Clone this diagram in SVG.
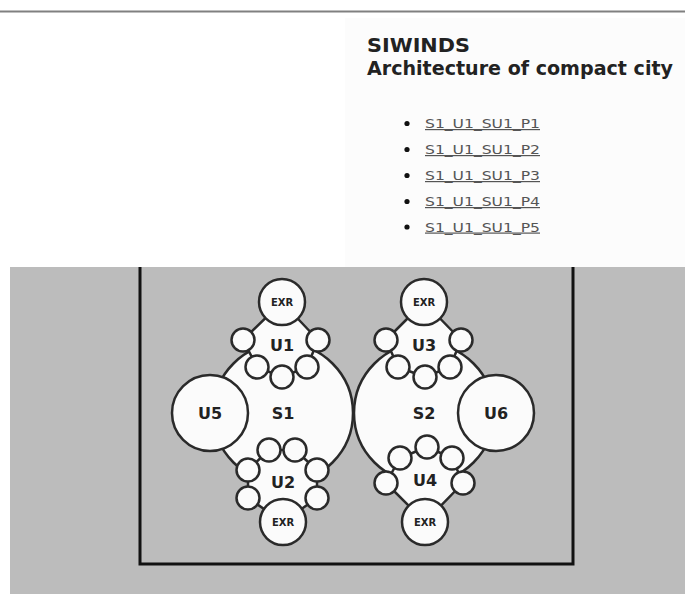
<svg xmlns="http://www.w3.org/2000/svg" width="685" height="594" viewBox="0 0 685 594">
<style>
.title{font-family:"DejaVu Sans",Verdana,sans-serif;font-weight:bold;font-size:19px;fill:#222}
.link{font-family:"DejaVu Sans",Verdana,sans-serif;font-size:12px;fill:#555;text-decoration:underline}
.c{fill:#fbfbfb;stroke:#2a2a2a;stroke-width:2.5}
.reg{fill:#fbfbfb;stroke:#2a2a2a;stroke-width:2.5;stroke-linejoin:round}
.lbl{font-family:"DejaVu Sans",sans-serif;font-weight:bold;font-size:16px;fill:#222;text-anchor:middle}
.exr{font-family:"DejaVu Sans",sans-serif;font-weight:bold;font-size:10px;fill:#222;text-anchor:middle}
</style>
<rect width="685" height="594" fill="#ffffff"/>
<rect x="345" y="18" width="340" height="249" fill="#fcfcfc"/>
<line x1="0" y1="11.5" x2="685" y2="11.5" stroke="#808080" stroke-width="2"/>

<g id="header">
<text class="title" x="367" y="52" textLength="103" lengthAdjust="spacingAndGlyphs">SIWINDS</text>
<text class="title" x="367" y="75" textLength="306" lengthAdjust="spacingAndGlyphs">Architecture of compact city</text>
</g>
<g id="links">
<circle cx="407" cy="123.5" r="2.6" fill="#111"/>
<circle cx="407" cy="149.5" r="2.6" fill="#111"/>
<circle cx="407" cy="175.5" r="2.6" fill="#111"/>
<circle cx="407" cy="201.5" r="2.6" fill="#111"/>
<circle cx="407" cy="227" r="2.6" fill="#111"/>
<text class="link" x="425" y="128" textLength="115" lengthAdjust="spacingAndGlyphs">S1_U1_SU1_P1</text>
<text class="link" x="425" y="154" textLength="115" lengthAdjust="spacingAndGlyphs">S1_U1_SU1_P2</text>
<text class="link" x="425" y="180" textLength="115" lengthAdjust="spacingAndGlyphs">S1_U1_SU1_P3</text>
<text class="link" x="425" y="206" textLength="115" lengthAdjust="spacingAndGlyphs">S1_U1_SU1_P4</text>
<text class="link" x="425" y="231.5" textLength="115" lengthAdjust="spacingAndGlyphs">S1_U1_SU1_P5</text>
</g>

<rect x="10" y="267" width="675" height="327" fill="#bcbcbc"/>
<path id="frame" d="M140,267 V564 H573 V267" fill="none" stroke="#111" stroke-width="3"/>

<g id="S1"><circle class="c" cx="283" cy="413" r="70"/><text class="lbl" x="283" y="419">S1</text></g>
<g id="S2"><circle class="c" cx="424" cy="413" r="70"/><text class="lbl" x="424" y="419">S2</text></g>
<g id="U5"><circle class="c" cx="210" cy="413" r="38"/><text class="lbl" x="210" y="419">U5</text></g>
<g id="U6"><circle class="c" cx="496" cy="413" r="38"/><text class="lbl" x="496" y="419">U6</text></g>

<g id="U1">
<polygon class="reg" points="282,302 318,340 307,367 282,377 257,367 243,340"/>
<circle class="c" cx="243" cy="340" r="11.5"/>
<circle class="c" cx="318" cy="340" r="11.5"/>
<circle class="c" cx="257" cy="367" r="11.5"/>
<circle class="c" cx="282" cy="377" r="11.5"/>
<circle class="c" cx="307" cy="367" r="11.5"/>
<circle class="c" cx="282" cy="302" r="23"/>
<text class="exr" x="282" y="306">EXR</text>
<text class="lbl" x="282" y="351">U1</text>
</g>

<g id="U2">
<polygon class="reg" points="269,450 295,450 317,470 317,498 283,522 248,498 248,470"/>
<circle class="c" cx="269" cy="450" r="11.5"/>
<circle class="c" cx="295" cy="450" r="11.5"/>
<circle class="c" cx="248" cy="470" r="11.5"/>
<circle class="c" cx="317" cy="470" r="11.5"/>
<circle class="c" cx="248" cy="498" r="11.5"/>
<circle class="c" cx="317" cy="498" r="11.5"/>
<circle class="c" cx="283" cy="522" r="23"/>
<text class="exr" x="283" y="526">EXR</text>
<text class="lbl" x="283" y="488">U2</text>
</g>

<g id="U3">
<polygon class="reg" points="424,302 461,340 450,367 425,377 398,367 386,340"/>
<circle class="c" cx="386" cy="340" r="11.5"/>
<circle class="c" cx="461" cy="340" r="11.5"/>
<circle class="c" cx="398" cy="367" r="11.5"/>
<circle class="c" cx="425" cy="377" r="11.5"/>
<circle class="c" cx="450" cy="367" r="11.5"/>
<circle class="c" cx="424" cy="302" r="23"/>
<text class="exr" x="424" y="306">EXR</text>
<text class="lbl" x="424" y="351">U3</text>
</g>

<g id="U4">
<polygon class="reg" points="427,447 452,458 463,483 425,522 386,483 400,458"/>
<circle class="c" cx="427" cy="447" r="11.5"/>
<circle class="c" cx="400" cy="458" r="11.5"/>
<circle class="c" cx="452" cy="458" r="11.5"/>
<circle class="c" cx="386" cy="483" r="11.5"/>
<circle class="c" cx="463" cy="483" r="11.5"/>
<circle class="c" cx="425" cy="522" r="23"/>
<text class="exr" x="425" y="526">EXR</text>
<text class="lbl" x="425" y="486">U4</text>
</g>
</svg>
